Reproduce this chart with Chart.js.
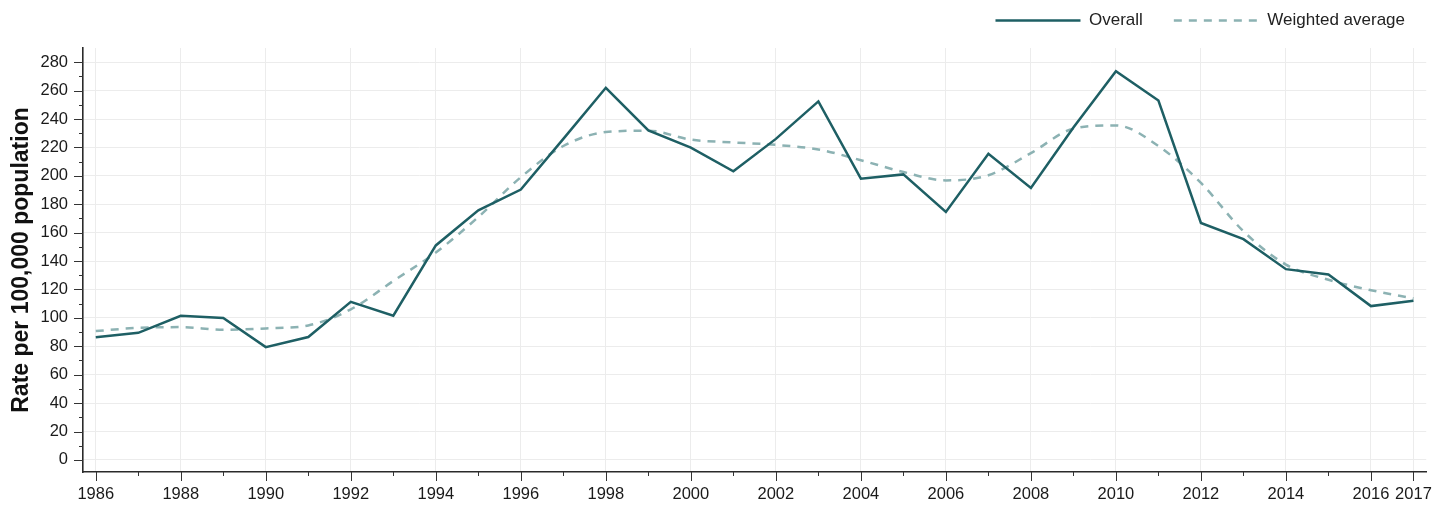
<!DOCTYPE html>
<html><head><meta charset="utf-8">
<script src="https://cdn.jsdelivr.net/npm/chart.js@4.4.1/dist/chart.umd.min.js"></script>
<style>html,body{margin:0;padding:0;background:#fff}#wrap{width:1445px;height:506px}</style>
</head><body><div id="wrap"><canvas id="c" width="1445" height="506"></canvas></div>
<script>
const years = [1986,1987,1988,1989,1990,1991,1992,1993,1994,1995,1996,1997,1998,1999,2000,2001,2002,2003,2004,2005,2006,2007,2008,2009,2010,2011,2012,2013,2014,2015,2016,2017];
const overall = [86.3,89.5,101.5,100,79.4,86.5,111.3,101.5,151,175.7,190.3,226,262,232,219.8,203.2,226,252.4,198,201,174.6,215.6,191.5,234,273.7,253,166.8,155.4,134.3,130.5,108.3,112];
const weighted = [90.7,93,93.5,91.6,92.6,94.7,106,126,146,171,199,221,230.8,231.8,225.5,223.5,221.8,218.6,211,202.7,196.8,200.4,216,233.2,235.5,221,195,161,137.5,126.8,119.5,113.7];
const xTickYears = [1986,1988,1990,1992,1994,1996,1998,2000,2002,2004,2006,2008,2010,2012,2014,2016,2017];
const yTickValues = [0,20,40,60,80,100,120,140,160,180,200,220,240,260,280];
const yMinorValues = [10,30,50,70,90,110,130,150,170,190,210,230,250,270];
const seriesNames = ['Overall','Weighted average'];
const yTitle = 'Rate per 100,000 population';

const FONT = "'Liberation Sans', Arial, sans-serif";
const toPoints = arr => years.map((yr,i)=>({x:yr, y:arr[i]}));

const tickMarks = {
  id:'tickMarks',
  afterDraw(chart){
    const {ctx, chartArea, scales:{x,y}} = chart;
    ctx.save();
    ctx.strokeStyle = '#333';
    ctx.lineWidth = 1;
    ctx.beginPath();
    years.forEach(v=>{
      const px = Math.round(x.getPixelForValue(v)) + 0.5;
      const len = xTickYears.includes(v) ? 9 : 4;
      ctx.moveTo(px, chartArea.bottom);
      ctx.lineTo(px, chartArea.bottom + len);
    });
    yTickValues.forEach(v=>{
      const py = Math.round(y.getPixelForValue(v)) + 0.5;
      ctx.moveTo(chartArea.left - 9, py);
      ctx.lineTo(chartArea.left, py);
    });
    yMinorValues.forEach(v=>{
      const py = Math.round(y.getPixelForValue(v)) + 0.5;
      ctx.moveTo(chartArea.left - 4, py);
      ctx.lineTo(chartArea.left, py);
    });
    ctx.stroke();
    ctx.restore();
  }
};

new Chart(document.getElementById('c'), {
  type:'line',
  data:{
    datasets:[
      {label:seriesNames[0], data:toPoints(overall), borderColor:'#1e5f64', backgroundColor:'#1e5f64', borderWidth:2.5, pointRadius:0, pointStyle:'line', tension:0, xAxisID:'x', yAxisID:'y'},
      {label:seriesNames[1], data:toPoints(weighted), borderColor:'#8cb2b3', backgroundColor:'#8cb2b3', borderWidth:2.5, borderDash:[8,7], pointRadius:0, pointStyle:'line', cubicInterpolationMode:'monotone', xAxisID:'x', yAxisID:'y'}
    ]
  },
  options:{
    responsive:false,
    animation:false,
    devicePixelRatio:1,
    layout:{padding:{top:-19,right:9,left:0,bottom:0}},
    plugins:{
      tooltip:{enabled:false},
      legend:{
        position:'top', align:'end',
        labels:{
          usePointStyle:true, pointStyle:'line', pointStyleWidth:85, padding:31, color:'#222',
          font:{family:FONT, size:17},
          generateLabels(chart){
            const items = Chart.defaults.plugins.legend.labels.generateLabels(chart);
            items.forEach(it=>{
              const ds = chart.data.datasets[it.datasetIndex];
              it.lineDash = ds.borderDash || [];
              it.lineWidth = ds.borderWidth;
              it.strokeStyle = ds.borderColor;
              it.fillStyle = ds.borderColor;
              it.pointStyle = 'line';
            });
            return items;
          }
        }
      }
    },
    scales:{
      x:{
        type:'linear', position:'bottom', min:1985.7, max:2017.3,
        afterBuildTicks:s=>{ s.ticks = xTickYears.map(v=>({value:v})); },
        afterFit:s=>{ s.height = 34; },
        ticks:{autoSkip:false, maxRotation:0, minRotation:0, padding:13, color:'#1a1a1a', font:{family:FONT, size:16.5}, callback:v=>String(v)},
        grid:{color:'#ececec', lineWidth:1, drawTicks:false},
        border:{color:'#2a2a2a', width:1.6}
      },
      xTop:{
        type:'linear', position:'top', display:true,
        grid:{display:false}, ticks:{display:false}, border:{display:false},
        afterFit:s=>{ s.height = 9; }
      },
      y:{
        type:'linear', position:'left', min:-8.5, max:290,
        afterBuildTicks:s=>{ s.ticks = yTickValues.map(v=>({value:v})); },
        afterFit:s=>{ s.width = 83; },
        ticks:{padding:15, color:'#1a1a1a', font:{family:FONT, size:16.5}, callback:v=>String(v)},
        grid:{color:'#ececec', lineWidth:1, drawTicks:false},
        border:{color:'#2a2a2a', width:1.6},
        title:{display:true, text:yTitle, color:'#111', font:{family:FONT, size:23, weight:'bold'}, padding:{top:8,bottom:0}}
      },
      yR:{
        type:'linear', position:'right', display:true,
        grid:{display:false}, ticks:{display:false}, border:{display:false},
        afterFit:s=>{ s.width = 9; }
      }
    }
  },
  plugins:[tickMarks]
});
</script>
</body></html>
